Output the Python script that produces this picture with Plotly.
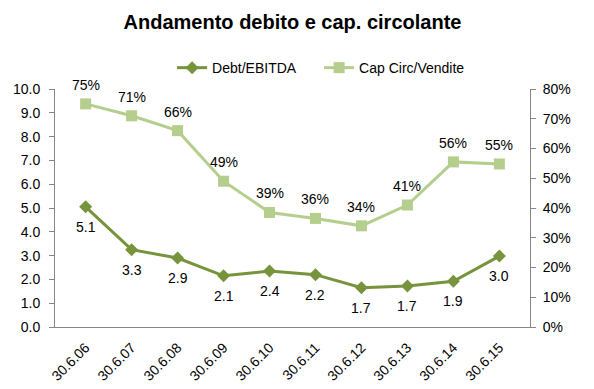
import plotly.graph_objects as go

categories = ["30.6.06", "30.6.07", "30.6.08", "30.6.09", "30.6.10",
              "30.6.11", "30.6.12", "30.6.13", "30.6.14", "30.6.15"]
debt_ebitda = [5.05, 3.25, 2.9, 2.15, 2.35, 2.2, 1.65, 1.72, 1.92, 2.98]
debt_labels = ["5.1", "3.3", "2.9", "2.1", "2.4", "2.2", "1.7", "1.7", "1.9", "3.0"]
cap_circ = [0.75, 0.71, 0.66, 0.49, 0.385, 0.365, 0.34, 0.41, 0.555, 0.548]
cap_labels = ["75%", "71%", "66%", "49%", "39%", "36%", "34%", "41%", "56%", "55%"]

FONT = "Liberation Sans, Arial, sans-serif"
AXIS_COLOR = "#868686"

fig = go.Figure()
fig.add_trace(go.Scatter(
    x=categories, y=debt_ebitda, name="Debt/EBITDA", mode="lines+markers",
    line=dict(color="#77933C", width=3),
    marker=dict(symbol="diamond", size=10, color="#77933C"),
    cliponaxis=False, yaxis="y"))
fig.add_trace(go.Scatter(
    x=categories, y=cap_circ, name="Cap Circ/Vendite", mode="lines+markers",
    line=dict(color="#B5CE8D", width=3),
    marker=dict(symbol="square", size=11, color="#B5CE8D"),
    cliponaxis=False, yaxis="y2"))

# data labels placed from the data values
for cat, val, lab in zip(categories, debt_ebitda, debt_labels):
    fig.add_annotation(x=cat, y=val, xref="x", yref="y", text=lab, showarrow=False,
                       yshift=-20, yanchor="middle",
                       font=dict(size=14, color="#000000", family=FONT))
for cat, val, lab in zip(categories, cap_circ, cap_labels):
    fig.add_annotation(x=cat, y=val, xref="x", yref="y2", text=lab, showarrow=False,
                       yshift=19, yanchor="middle",
                       font=dict(size=14, color="#000000", family=FONT))

# page body adds an 8px offset, so the figure is sized 8px smaller
fig.update_layout(
    width=586, height=381,
    margin=dict(l=47, r=64, t=81, b=62, autoexpand=False),
    paper_bgcolor="white", plot_bgcolor="white",
    font=dict(family=FONT, size=14, color="#000000"),
    title=dict(text="<b>Andamento debito e cap. circolante</b>",
               x=0.5, xanchor="center", xref="paper", y=0.963, yref="container",
               yanchor="middle",
               font=dict(size=20, family=FONT, color="#000000")),
    legend=dict(orientation="h", x=0.556, xanchor="center", y=1.088, yanchor="middle",
                font=dict(size=14, family=FONT), bgcolor="rgba(0,0,0,0)",
                entrywidth=102, entrywidthmode="pixels", itemwidth=30,
                tracegroupgap=0),
    showlegend=True,
    xaxis=dict(type="category", showgrid=False, showline=True, linecolor=AXIS_COLOR,
               linewidth=1, ticks="", tickangle=-45, automargin=False,
               ticklabelstandoff=6,
               tickfont=dict(size=14, family=FONT), zeroline=False),
    yaxis=dict(range=[0, 10], dtick=1, tickformat=".1f", showgrid=False,
               showline=True, linecolor=AXIS_COLOR, linewidth=1, automargin=False,
               ticks="outside", ticklen=5, tickcolor=AXIS_COLOR,
               ticklabelstandoff=6,
               tickfont=dict(size=14, family=FONT), zeroline=False),
    yaxis2=dict(range=[0, 0.8], dtick=0.1, tickformat=".0%", overlaying="y",
                side="right", showgrid=False, showline=True, linecolor=AXIS_COLOR,
                linewidth=1, ticks="outside", ticklen=5, tickcolor=AXIS_COLOR,
                automargin=False, ticklabelstandoff=4,
                tickfont=dict(size=14, family=FONT), zeroline=False),
)

fig.write_html("out.html")
